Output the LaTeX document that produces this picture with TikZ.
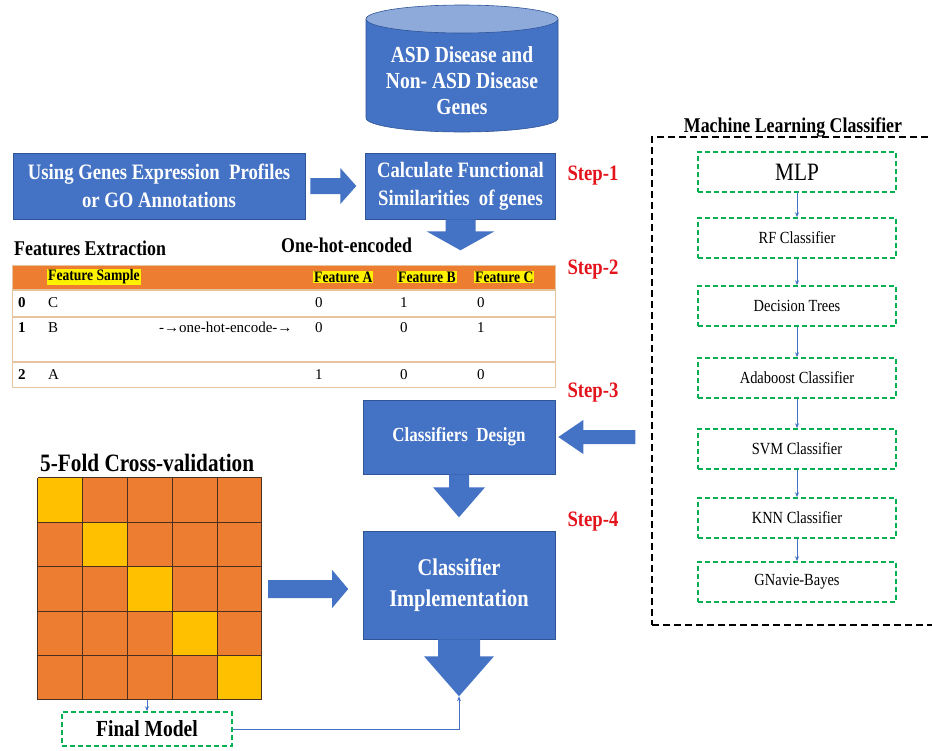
\documentclass[tikz,border=0pt]{standalone}
\usepackage{fontspec}
\setmainfont{Liberation Serif}
\newfontfamily\narrowfont[FakeStretch=0.85]{Liberation Serif}
\usetikzlibrary{arrows.meta,calc}
\definecolor{boxblue}{HTML}{4472C4}
\definecolor{edgeblue}{HTML}{2F5597}
\definecolor{lidblue}{HTML}{8EAADB}
\definecolor{foldorange}{HTML}{ED7D31}
\definecolor{foldyellow}{HTML}{FFC000}
\definecolor{steplabel}{HTML}{E3141C}
\definecolor{dashgreen}{HTML}{00B050}
\definecolor{rowline}{HTML}{E6C49E}
\definecolor{gridline}{HTML}{4A3020}

\begin{document}
\begin{tikzpicture}[x=1pt,y=-1pt,
  bluebox/.style={fill=boxblue,draw=edgeblue,line width=0.6pt,text=white,align=center,inner sep=0pt,
    font=\narrowfont\bfseries\fontsize{22}{28}\selectfont},
  steptext/.style={text=steplabel,anchor=west,font=\narrowfont\bfseries\fontsize{22}{26}\selectfont},
  titletext/.style={anchor=west,inner sep=0pt,font=\narrowfont\bfseries\fontsize{21}{24}\selectfont},
  modelbox/.style={draw=dashgreen,line width=1.6pt,dash pattern=on 5pt off 3pt,minimum width=198pt,
    minimum height=40pt,fill=white,font=\narrowfont\fontsize{17}{20}\selectfont},
  thinarrow/.style={draw=boxblue,line width=0.8pt,-{Stealth[length=5pt,width=4pt]}},
  blockarrow/.style={fill=boxblue},
  cell/.style={anchor=west,inner sep=0pt,font=\fontsize{15}{17}\selectfont},
  headcell/.style={anchor=west,inner sep=1pt,fill=yellow,font=\narrowfont\bfseries\fontsize{16}{18}\selectfont}
]
\useasboundingbox (0,0) rectangle (932,750);

% The gene database
\fill[boxblue] (366,19) -- (366,118) arc[start angle=180,end angle=360,x radius=96pt,y radius=14pt] -- (558,19) -- cycle;
\draw[edgeblue,line width=0.6pt] (366,19) -- (366,118) arc[start angle=180,end angle=360,x radius=96pt,y radius=14pt] -- (558,19);
\draw[fill=lidblue,draw=edgeblue,line width=0.6pt] (462,19) ellipse[x radius=96pt,y radius=14pt];
\node[text=white,align=center,font=\narrowfont\bfseries\fontsize{23}{26}\selectfont] (genes) at (462,81)
  {ASD Disease and\\Non- ASD Disease\\Genes};

% Step 1
\node[bluebox,minimum width=292pt,minimum height=66pt] (profiles) at (159,186)
  {Using Genes Expression \ Profiles\\or GO Annotations};
\node[bluebox,minimum width=190pt,minimum height=66pt] (similar) at (460.5,186)
  {Calculate Functional\\Similarities \ of genes};
\node[steptext] (step1) at (564,176) {Step-1};
\fill[blockarrow] ($(profiles.east)+(5,-8)$) -- ++(30,0) -- ++(0,-10) -- ++(16,18) -- ++(-16,18) -- ++(0,-10) -- ++(-30,0) -- cycle;
\fill[blockarrow] ($(similar.south)+(-15,0)$) -- ++(0,12) -- ++(-19,0) -- ++(34,19) -- ++(34,-19) -- ++(-19,0) -- ++(0,-12) -- cycle;

% Step 2: the one-hot table
\node[titletext] (featx) at (14,248) {Features Extraction};
\node[titletext] (onehot) at (281,245) {One-hot-encoded};
\node[steptext] (step2) at (564,270) {Step-2};
\fill[foldorange] (12,265) rectangle (555,290);
\draw[rowline,line width=0.8pt] (12,265) rectangle (555,387);
\foreach \yy in {290,317,362}
  \draw[rowline,line width=1.2pt] (12,\yy) -- (555,\yy);
\node[headcell] (hsample) at (47,277) {Feature Sample};
\node[headcell] (hfa) at (313,277) {Feature A};
\node[headcell] (hfb) at (397,277) {Feature B};
\node[headcell] (hfc) at (474,277) {Feature C};
\foreach \i/\s/\a/\b/\c/\yy in {0/C/0/1/0/303, 1/B/0/0/1/328, 2/A/1/0/0/375}
{
  \node[cell,font=\bfseries\fontsize{15}{17}\selectfont] (idx\i) at (18,\yy) {\i};
  \node[cell] (smp\i) at (48,\yy) {\s};
  \node[cell] (fa\i) at (315,\yy) {\a};
  \node[cell] (fb\i) at (400,\yy) {\b};
  \node[cell] (fc\i) at (477,\yy) {\c};
}
\node[cell] (encode) at (159,327) {-→one-hot-encode-→};

% Step 3
\node[bluebox,minimum width=192pt,minimum height=74pt,font=\narrowfont\bfseries\fontsize{20}{24}\selectfont] (design) at (459,437)
  {Classifiers \ Design};
\node[steptext] (step3) at (564,393) {Step-3};
\fill[blockarrow] ($(design.east)+(3,0)$) -- ++(25,-17) -- ++(0,10) -- ++(52,0) -- ++(0,14) -- ++(-52,0) -- ++(0,10) -- cycle;
\fill[blockarrow] ($(design.south)+(-10,0)$) -- ++(0,13) -- ++(-16,0) -- ++(26,30) -- ++(26,-30) -- ++(-16,0) -- ++(0,-13) -- cycle;

% Step 4
\node[bluebox,minimum width=192pt,minimum height=108pt,font=\narrowfont\bfseries\fontsize{24}{31}\selectfont] (impl) at (459,585)
  {Classifier\\Implementation};
\node[steptext] (step4) at (564,522) {Step-4};
\fill[blockarrow] ($(impl.south)+(-21,0)$) -- ++(0,17) -- ++(-14,0) -- ++(35,40) -- ++(35,-40) -- ++(-14,0) -- ++(0,-17) -- cycle;
\coordinate (impltip) at ($(impl.south)+(0,57)$);

% The 5-fold grid
\node[titletext,font=\narrowfont\bfseries\fontsize{25}{28}\selectfont] (cvtitle) at (40,463) {5-Fold Cross-validation};
\node[fill=foldorange,minimum width=224pt,minimum height=222pt,inner sep=0pt] (folds) at (150,589) {};
\foreach \i in {0,...,4}
  \fill[foldyellow] ($(folds.north west)+(44.8*\i,44.4*\i)$) rectangle ++(44.8,44.4);
\foreach \i in {0,...,5}
{
  \draw[gridline,line width=0.8pt] ($(folds.north west)+(44.8*\i,0)$) -- ++(0,222);
  \draw[gridline,line width=0.8pt] ($(folds.north west)+(0,44.4*\i)$) -- ++(224,0);
}
\fill[blockarrow] ($(folds.east)+(6,-9)$) -- ++(64,0) -- ++(0,-10) -- ++(16,19) -- ++(-16,19) -- ++(0,-10) -- ++(-64,0) -- cycle;

% Final model
\node[modelbox,minimum width=170pt,minimum height=34pt,font=\narrowfont\bfseries\fontsize{23}{26}\selectfont] (final) at (147,729) {Final Model};
\draw[thinarrow] (folds.south -| final.north) -- (final.north);
\draw[thinarrow] (final.east) -| (impltip);

% The classifiers
\node[titletext,anchor=center,font=\narrowfont\bfseries\fontsize{21}{24}\selectfont] (mltitle) at (793,127) {Machine Learning Classifier};
\node[draw,line width=2pt,dash pattern=on 7pt off 4pt,minimum width=290pt,minimum height=488pt] (panel) at (797,381) {};
\node[modelbox,font=\narrowfont\fontsize{25}{28}\selectfont] (mlp) at (797,172) {MLP};
\foreach \nm/\yy/\txt in {rf/238/RF Classifier, dt/306/Decision Trees, ada/378/Adaboost Classifier,
  svm/449/SVM Classifier, knn/518/KNN Classifier, gnb/582/GNavie-Bayes}
  \node[modelbox] (\nm) at (797,\yy) {\txt};
\foreach \a/\b in {mlp/rf, rf/dt, dt/ada, ada/svm, svm/knn, knn/gnb}
  \draw[thinarrow] (\a.south) -- (\b.north);

\end{tikzpicture}
\end{document}
